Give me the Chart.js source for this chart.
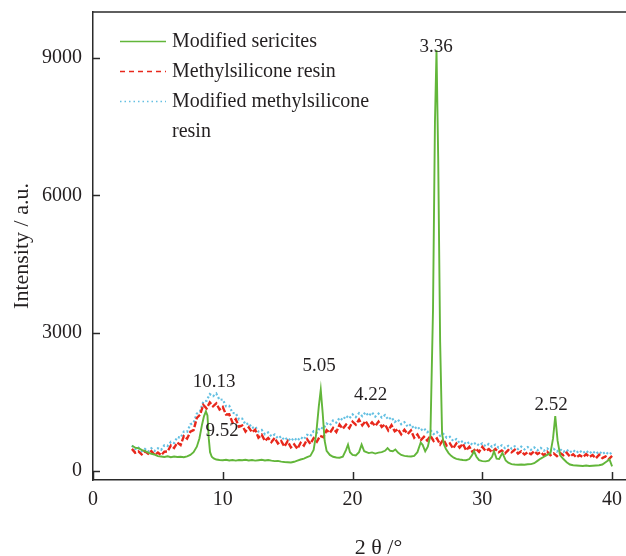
<!DOCTYPE html>
<html><head><meta charset="utf-8">
<script src="https://cdn.jsdelivr.net/npm/chart.js@4.4.1/dist/chart.umd.min.js"></script>
<style>html,body{margin:0;padding:0;background:#fff;overflow:hidden;} canvas{display:block;}</style>
</head><body>
<canvas id="c" width="664" height="556"></canvas>
<script>
// ---------- DATA ----------
const seriesNames = ['Modified sericites', 'Methylsilicone resin', 'Modified methylsilicone resin'];

// Modified sericites (2θ in degrees, intensity a.u.)
const greenAngles = [
  3.00,3.25,3.50,3.75,4.00,4.25,4.50,4.75,5.00,5.25,
  5.50,5.75,6.00,6.25,6.50,6.75,7.00,7.25,7.50,7.75,
  8.00,8.20,8.40,8.55,8.70,8.82,8.92,9.02,9.15,9.30,
  9.50,9.75,10.00,10.25,10.50,10.75,11.00,11.25,11.50,11.75,
  12.00,12.25,12.50,12.75,13.00,13.25,13.50,13.75,14.00,14.25,
  14.50,14.75,15.00,15.25,15.50,15.75,16.00,16.25,16.50,16.75,
  17.00,17.20,17.40,17.55,17.70,17.85,18.00,18.25,18.50,18.75,
  19.00,19.25,19.50,19.65,19.80,20.00,20.25,20.50,20.70,20.90,
  21.25,21.50,21.75,22.00,22.25,22.50,22.70,22.90,23.10,23.30,
  23.50,23.75,24.00,24.25,24.50,24.75,25.00,25.25,25.40,25.60,
  25.80,26.00,26.20,26.35,26.47,26.60,26.75,26.90,27.05,27.20,
  27.40,27.60,27.80,28.00,28.25,28.50,28.75,29.00,29.20,29.36,
  29.55,29.75,30.00,30.25,30.50,30.75,30.90,31.10,31.30,31.55,
  31.80,32.00,32.25,32.50,32.75,33.00,33.25,33.50,33.75,34.00,
  34.25,34.50,34.75,35.00,35.25,35.45,35.62,35.80,36.00,36.25,
  36.50,36.75,37.00,37.25,37.50,37.75,38.00,38.25,38.50,38.75,
  39.00,39.25,39.50,39.80,40.00
];
const greenIntensity = [
  540,500,485,450,425,390,365,345,315,305,
  295,310,290,305,295,300,290,310,340,400,
  520,700,1000,1180,1290,1200,700,400,300,265,
  240,230,225,235,220,230,215,230,225,235,
  220,230,215,225,235,220,230,215,205,210,
  195,185,180,175,190,215,240,260,290,320,
  450,800,1400,1760,1250,650,430,340,300,285,
  280,300,450,565,400,340,330,400,565,420,
  380,395,370,390,400,430,490,430,420,460,
  390,340,320,310,305,320,400,610,560,420,
  520,760,3500,7600,9170,6800,2800,800,560,470,
  380,320,280,255,240,230,225,250,330,420,
  300,225,205,200,215,300,420,260,250,385,
  220,170,140,130,125,130,125,135,140,160,
  210,260,300,340,380,700,1185,650,330,250,
  180,130,115,110,105,100,110,100,105,110,
  115,130,180,240,90
];

// Both resin samples share the same 2θ sampling
const resinAngles = [
  3.00,3.25,3.50,3.75,4.00,4.25,4.50,4.75,
  5.00,5.25,5.50,5.75,6.00,6.25,6.50,6.75,
  7.00,7.25,7.50,7.75,8.00,8.25,8.50,8.75,
  9.00,9.25,9.50,9.75,10.00,10.25,10.50,10.75,
  11.00,11.25,11.50,11.75,12.00,12.25,12.50,12.75,
  13.00,13.25,13.50,13.75,14.00,14.25,14.50,14.75,
  15.00,15.25,15.50,15.75,16.00,16.25,16.50,16.75,
  17.00,17.25,17.50,17.75,18.00,18.25,18.50,18.75,
  19.00,19.25,19.50,19.75,20.00,20.25,20.50,20.75,
  21.00,21.25,21.50,21.75,22.00,22.25,22.50,22.75,
  23.00,23.25,23.50,23.75,24.00,24.25,24.50,24.75,
  25.00,25.25,25.50,25.75,26.00,26.25,26.50,26.75,
  27.00,27.25,27.50,27.75,28.00,28.25,28.50,28.75,
  29.00,29.25,29.50,29.75,30.00,30.25,30.50,30.75,
  31.00,31.25,31.50,31.75,32.00,32.25,32.50,32.75,
  33.00,33.25,33.50,33.75,34.00,34.25,34.50,34.75,
  35.00,35.25,35.50,35.75,36.00,36.25,36.50,36.75,
  37.00,37.25,37.50,37.75,38.00,38.25,38.50,38.75,
  39.00,39.25,39.50,39.75,40.00
];
const resinIntensity = [
  472,388,415,350,418,368,423,339,
  391,335,409,415,545,490,610,555,
  750,695,845,880,1145,1220,1430,1355,
  1485,1400,1465,1330,1385,1220,1225,1045,
  1120,955,980,850,940,835,890,715,
  780,645,710,620,710,590,645,520,
  640,505,570,475,605,545,680,580,
  705,630,755,725,880,820,925,840,
  1000,910,1000,925,1065,1000,1110,985,
  1080,970,1050,970,1065,950,1005,875,
  990,855,905,790,890,795,875,715,
  785,660,735,655,755,645,700,570,
  680,545,590,480,590,500,585,440,
  520,400,480,408,515,427,467,396,
  470,397,435,374,445,396,453,369,
  419,349,399,356,421,360,401,331,
  408,335,373,312,383,334,390,305,
  355,285,335,292,357,296,337,267,
  344,271,309,248,319
];
const modResinIntensity = [
  545,465,500,420,470,415,485,427,
  485,450,550,535,625,600,730,715,
  850,845,1005,1040,1240,1295,1500,1520,
  1665,1620,1680,1540,1550,1400,1410,1255,
  1250,1115,1130,1005,1030,925,960,850,
  885,790,830,745,785,700,745,665,
  715,645,710,650,725,680,780,750,
  860,825,940,910,1025,985,1090,1045,
  1150,1100,1195,1135,1225,1165,1250,1185,
  1270,1190,1265,1175,1240,1155,1210,1110,
  1160,1060,1110,1010,1055,955,1005,910,
  960,875,920,835,880,795,840,755,
  800,715,735,645,685,600,645,572,
  620,557,605,543,590,529,578,516,
  565,502,550,489,538,478,528,469,
  520,461,512,452,502,442,492,432,
  482,422,473,414,465,405,455,395,
  446,386,437,378,430,371,422,363,
  415,356,408,349,395
];

// Axis ticks
const xTickValues = [0, 10, 20, 30, 40];
const yTickValues = [0, 3000, 6000, 9000];

// Peak annotations (d-spacing text placed at 2θ / intensity)
const peakLabels = ['10.13', '9.52', '5.05', '4.22', '3.36', '2.52'];
const peakLabelAngles = [9.33, 9.95, 17.42, 21.4, 26.45, 35.3];
const peakLabelIntensities = [1930, 860, 2270, 1650, 9230, 1430];

// ---------- CHART ----------
const FONT = "'Liberation Serif', 'Times New Roman', serif";
const TEXT = '#231f20';
const AXIS = '#2a2a2a';
const COLORS = ['rgb(98,182,58)', 'rgb(232,40,28)', 'rgb(100,192,226)'];
const DASHES = [[], [6, 2], [2, 2.2]];

const toPoints = (xs, ys) => xs.map((v, i) => ({x: v, y: ys[i]}));

const decorations = {
  id: 'decorations',
  afterDraw(chart) {
    const {ctx, chartArea: a, scales: {x, y}} = chart;
    ctx.save();
    ctx.strokeStyle = AXIS;
    ctx.lineWidth = 1.5;
    // top frame line
    ctx.beginPath(); ctx.moveTo(a.left, a.top); ctx.lineTo(a.right, a.top); ctx.stroke();
    // inward tick marks
    x.ticks.forEach(t => {
      const px = Math.round(x.getPixelForValue(t.value)) + 0.5;
      ctx.beginPath(); ctx.moveTo(px, a.bottom); ctx.lineTo(px, a.bottom - 8); ctx.stroke();
    });
    y.ticks.forEach(t => {
      const py = Math.round(y.getPixelForValue(t.value)) + 0.5;
      ctx.beginPath(); ctx.moveTo(a.left, py); ctx.lineTo(a.left + 7, py); ctx.stroke();
    });
    // peak labels
    ctx.fillStyle = TEXT;
    ctx.font = '19px ' + FONT;
    ctx.textAlign = 'center';
    ctx.textBaseline = 'middle';
    peakLabels.forEach((t, i) => {
      ctx.fillText(t, x.getPixelForValue(peakLabelAngles[i]), y.getPixelForValue(peakLabelIntensities[i]));
    });
    // legend
    const lx0 = a.left + 27, lx1 = a.left + 73, tx = a.left + 79;
    let ly = a.top + 29;
    ctx.font = '20px ' + FONT;
    ctx.textAlign = 'left';
    chart.data.datasets.forEach((ds, i) => {
      ctx.save();
      ctx.strokeStyle = ds.borderColor;
      ctx.lineWidth = 1.5;
      ctx.setLineDash(i === 1 ? [5, 4] : (i === 2 ? [1.5, 3] : []));
      ctx.beginPath(); ctx.moveTo(lx0, ly + 0.5); ctx.lineTo(lx1, ly + 0.5); ctx.stroke();
      ctx.restore();
      // wrap text
      const words = ds.label.split(' ');
      let line = '';
      const lines = [];
      words.forEach(w => {
        const test = line ? line + ' ' + w : w;
        if (ctx.measureText(test).width > 215 && line) { lines.push(line); line = w; } else { line = test; }
      });
      lines.push(line);
      lines.forEach(l => { ctx.fillText(l, tx, ly + 1); ly += 30; });
    });
    ctx.restore();
  }
};

new Chart(document.getElementById('c'), {
  type: 'line',
  data: {
    datasets: [
      {label: seriesNames[0], data: toPoints(greenAngles, greenIntensity), borderColor: COLORS[0], borderWidth: 1.9, borderDash: DASHES[0]},
      {label: seriesNames[1], data: toPoints(resinAngles, resinIntensity), borderColor: COLORS[1], borderWidth: 2.4, borderDash: DASHES[1]},
      {label: seriesNames[2], data: toPoints(resinAngles, modResinIntensity), borderColor: COLORS[2], borderWidth: 2.2, borderDash: DASHES[2]}
    ]
  },
  options: {
    responsive: false,
    animation: false,
    devicePixelRatio: 1,
    layout: {padding: {top: 12, right: 0, bottom: 0, left: 0}},
    elements: {point: {radius: 0}, line: {tension: 0}},
    plugins: {legend: {display: false}, tooltip: {enabled: false}},
    scales: {
      x: {
        type: 'linear', min: 0, max: 44,
        afterBuildTicks: s => { s.ticks = xTickValues.map(v => ({value: v})); },
        afterFit: s => { s.height = 76; s.paddingLeft = 0; s.paddingRight = 0; },
        grid: {display: false, drawTicks: false},
        border: {display: true, color: AXIS, width: 1.5},
        ticks: {color: TEXT, font: {family: FONT, size: 20}, padding: 8, maxRotation: 0, autoSkip: false, callback: v => String(v)},
        title: {display: true, text: '2 θ /°', color: TEXT, font: {family: FONT, size: 22}, padding: {top: 0, bottom: -5}}
      },
      y: {
        type: 'linear', min: -207, max: 10000,
        afterBuildTicks: s => { s.ticks = yTickValues.map(v => ({value: v})); },
        afterFit: s => { s.width = 93; s.paddingTop = 0; s.paddingBottom = 0; },
        grid: {display: false, drawTicks: false},
        border: {display: true, color: AXIS, width: 1.5},
        ticks: {color: TEXT, font: {family: FONT, size: 20}, padding: 11, autoSkip: false, callback: v => String(v)},
        title: {display: true, text: 'Intensity / a.u.', color: TEXT, font: {family: FONT, size: 22}, padding: {top: 9, bottom: 0}}
      }
    }
  },
  plugins: [decorations]
});
</script>
</body></html>
